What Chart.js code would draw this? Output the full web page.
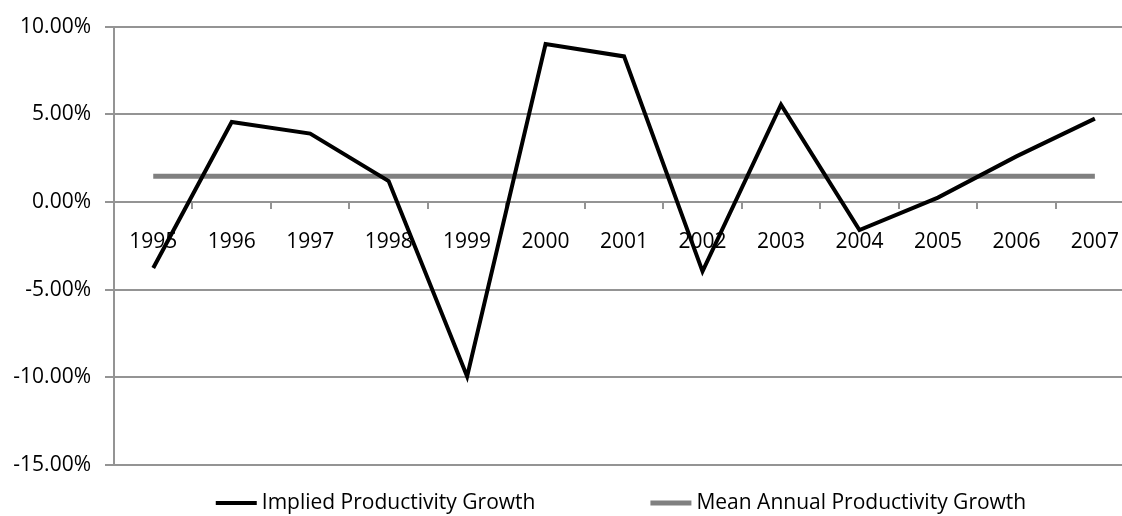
<!DOCTYPE html>
<html>
<head>
<meta charset="utf-8">
<script src="https://cdn.jsdelivr.net/npm/chart.js@4"></script>
<style>
  html, body { margin: 0; padding: 0; background: #fff; width: 1122px; height: 516px; overflow: hidden; }
  #wrap { width: 1140px; height: 516px; position: relative; }
</style>
</head>
<body>
<div id="wrap"><canvas id="growthChart"></canvas></div>
<script>
// data (percent)
const years = ['1995', '1996', '1997', '1998', '1999', '2000', '2001', '2002', '2003', '2004', '2005', '2006', '2007'];
const impliedGrowth = [-3.77, 4.56, 3.9, 1.19, -9.95, 9.0, 8.3, -3.96, 5.55, -1.6, 0.25, 2.6, 4.75];
const meanGrowth = [1.46, 1.46, 1.46, 1.46, 1.46, 1.46, 1.46, 1.46, 1.46, 1.46, 1.46, 1.46, 1.46];
const yMin = -15;
const yMax = 10;
const yStep = 5;

const gridColor = '#949494';
const font = '"Open Sans", sans-serif';

// legend drawn below the plot, Excel style (short thick line + label)
const lineLegend = {
  id: 'lineLegend',
  afterDraw(chart) {
    const ctx = chart.ctx;
    ctx.save();
    ctx.font = '21px ' + font;
    ctx.textBaseline = 'middle';
    const sampleW = 41, textGap = 5, itemGap = 115;
    const items = chart.data.datasets.map(ds => ({ ds, w: ctx.measureText(ds.label).width }));
    const total = items.reduce((s, it) => s + sampleW + textGap + it.w, 0) + itemGap * (items.length - 1);
    let x = 621 - total / 2;
    const y = 503;
    items.forEach(it => {
      ctx.strokeStyle = it.ds.borderColor;
      ctx.lineWidth = it.ds.borderWidth;
      ctx.beginPath();
      ctx.moveTo(x, y);
      ctx.lineTo(x + sampleW, y);
      ctx.stroke();
      ctx.fillStyle = '#000';
      ctx.fillText(it.ds.label, x + sampleW + textGap, y);
      x += sampleW + textGap + it.w + itemGap;
    });
    ctx.restore();
  }
};

const ctx = document.getElementById('growthChart').getContext('2d');
const growthChart = new Chart(ctx, {
  type: 'line',
  data: {
    labels: years,
    datasets: [{
      label: 'Implied Productivity Growth',
      data: impliedGrowth,
      borderColor: '#000000',
      backgroundColor: '#000000',
      borderWidth: 4,
      pointRadius: 0,
      tension: 0,
      order: 1
    }, {
      label: 'Mean Annual Productivity Growth',
      data: meanGrowth,
      borderColor: '#808080',
      backgroundColor: '#808080',
      borderWidth: 5,
      pointRadius: 0,
      tension: 0,
      order: 2
    }]
  },
  options: {
    responsive: true,
    maintainAspectRatio: false,
    animation: false,
    layout: {
      padding: { left: 0, right: 3, top: 25, bottom: 51 }
    },
    plugins: {
      legend: { display: false },
      tooltip: { enabled: false }
    },
    scales: {
      x: {
        type: 'category',
        position: { y: 0 },
        offset: true,
        grid: {
          drawOnChartArea: false,
          offset: true,
          tickLength: 6,
          color: gridColor,
          lineWidth: 2
        },
        border: { display: true, color: gridColor, width: 2 },
        ticks: {
          color: '#000',
          font: { family: font, size: 21 },
          padding: 21,
          maxRotation: 0,
          autoSkip: false
        }
      },
      y: {
        min: yMin,
        max: yMax,
        afterFit(scale) { scale.width = 114; },
        grid: {
          color: gridColor,
          lineWidth: 2,
          tickLength: 9
        },
        border: { display: true, color: gridColor, width: 2 },
        ticks: {
          stepSize: yStep,
          color: '#000',
          font: { family: font, size: 21 },
          padding: 14,
          callback: v => v.toFixed(2) + '%'
        }
      }
    }
  },
  plugins: [lineLegend]
});
</script>
</body>
</html>
